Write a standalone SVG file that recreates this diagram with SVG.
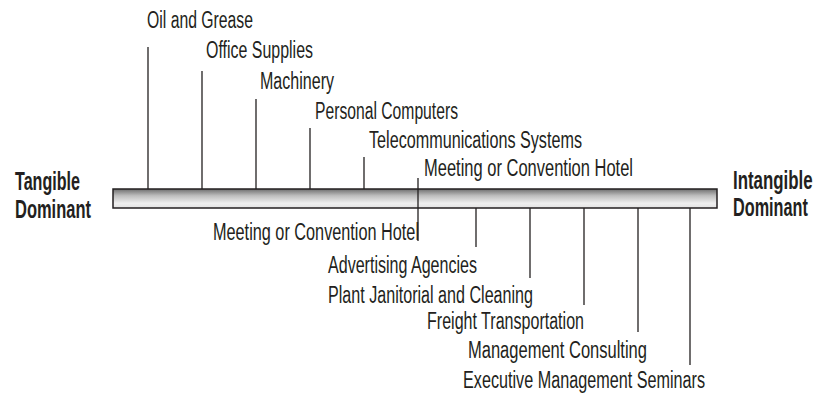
<svg xmlns="http://www.w3.org/2000/svg" width="819" height="396" viewBox="0 0 819 396">
<style>
.lbl{font-family:"Liberation Sans",Arial,sans-serif;font-size:23px;fill:#231f20}
.end{font-family:"Liberation Sans",Arial,sans-serif;font-size:25px;font-weight:bold;fill:#231f20}
.ln{stroke:#231f20;stroke-width:1.3;fill:none}
</style>
<defs>
<linearGradient id="barg" x1="0" y1="0" x2="0" y2="1">
<stop offset="0" stop-color="#6e6e6e"/>
<stop offset="0.35" stop-color="#bdbdbd"/>
<stop offset="0.75" stop-color="#efefef"/>
<stop offset="1" stop-color="#e2e2e2"/>
</linearGradient>
</defs>
<rect width="819" height="396" fill="#ffffff"/>
<g id="bar"><rect x="113" y="189" width="604" height="19" fill="url(#barg)" stroke="#231f20" stroke-width="1.5"/></g>
<g id="connectors">
<line class="ln" x1="148" y1="47" x2="148" y2="189"/>
<line class="ln" x1="202" y1="71" x2="202" y2="189"/>
<line class="ln" x1="256" y1="99" x2="256" y2="189"/>
<line class="ln" x1="310" y1="128" x2="310" y2="189"/>
<line class="ln" x1="364" y1="157" x2="364" y2="189"/>
<line class="ln" x1="418" y1="178" x2="418" y2="241"/>
<line class="ln" x1="476" y1="208" x2="476" y2="247"/>
<line class="ln" x1="530" y1="208" x2="530" y2="278"/>
<line class="ln" x1="584" y1="208" x2="584" y2="305"/>
<line class="ln" x1="638" y1="208" x2="638" y2="332"/>
<line class="ln" x1="690" y1="208" x2="690" y2="365"/>
</g>
<g id="tangible"><text class="end" x="15" y="190" textLength="65" lengthAdjust="spacingAndGlyphs">Tangible</text><text class="end" x="15" y="218" textLength="76" lengthAdjust="spacingAndGlyphs">Dominant</text></g>
<g id="intangible"><text class="end" transform="translate(733,189) scale(0.675,1)" x="0" y="0">Intangible</text><text class="end" transform="translate(733,216) scale(0.65,1)" x="0" y="0">Dominant</text></g>
<g id="oil"><text class="lbl" x="147" y="28" textLength="106" lengthAdjust="spacingAndGlyphs">Oil and Grease</text></g>
<g id="office"><text class="lbl" x="206" y="58" textLength="107" lengthAdjust="spacingAndGlyphs">Office Supplies</text></g>
<g id="machinery"><text class="lbl" x="260" y="89" textLength="74" lengthAdjust="spacingAndGlyphs">Machinery</text></g>
<g id="pc"><text class="lbl" x="315" y="119" textLength="143" lengthAdjust="spacingAndGlyphs">Personal Computers</text></g>
<g id="telecom"><text class="lbl" x="369" y="148" textLength="213" lengthAdjust="spacingAndGlyphs">Telecommunications Systems</text></g>
<g id="hotel-top"><text class="lbl" x="424" y="176" textLength="209" lengthAdjust="spacingAndGlyphs">Meeting or Convention Hotel</text></g>
<g id="hotel-bottom"><text class="lbl" x="213" y="240" textLength="206" lengthAdjust="spacingAndGlyphs">Meeting or Convention Hotel</text></g>
<g id="advertising"><text class="lbl" x="328" y="273" textLength="149" lengthAdjust="spacingAndGlyphs">Advertising Agencies</text></g>
<g id="janitorial"><text class="lbl" x="328" y="303" textLength="205" lengthAdjust="spacingAndGlyphs">Plant Janitorial and Cleaning</text></g>
<g id="freight"><text class="lbl" x="427" y="329" textLength="157" lengthAdjust="spacingAndGlyphs">Freight Transportation</text></g>
<g id="consulting"><text class="lbl" x="468" y="358" textLength="179" lengthAdjust="spacingAndGlyphs">Management Consulting</text></g>
<g id="seminars"><text class="lbl" x="463" y="388" textLength="242" lengthAdjust="spacingAndGlyphs">Executive Management Seminars</text></g>
</svg>
